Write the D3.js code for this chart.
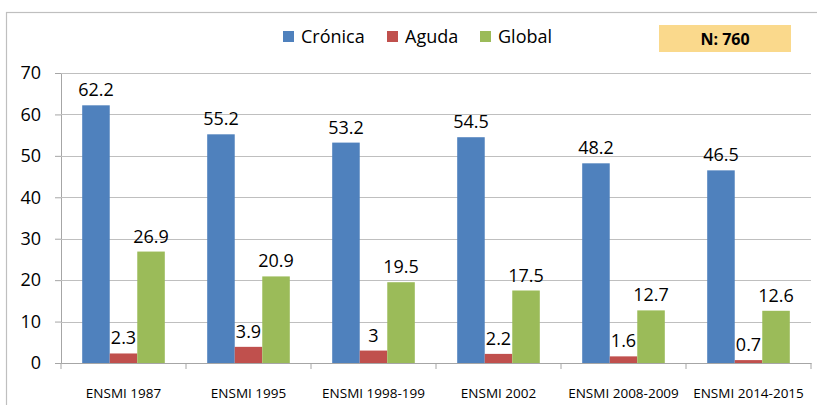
<!DOCTYPE html>
<html>
<head>
<meta charset="utf-8">
<script src="https://cdn.jsdelivr.net/npm/d3@7"></script>
<style>
  body { margin: 0; background: #fff; }
  svg { display: block; font-family: "Open Sans", sans-serif; }
</style>
</head>
<body>
<div id="chart"></div>
<script>
// Chart data
const categories = ["ENSMI 1987", "ENSMI 1995", "ENSMI 1998-199", "ENSMI 2002", "ENSMI 2008-2009", "ENSMI 2014-2015"];
const seriesNames = ["Crónica", "Aguda", "Global"];
const cronica = [62.2, 55.2, 53.2, 54.5, 48.2, 46.5];
const aguda = [2.3, 3.9, 3, 2.2, 1.6, 0.7];
const global = [26.9, 20.9, 19.5, 17.5, 12.7, 12.6];
const yTicks = [0, 10, 20, 30, 40, 50, 60, 70];
const noteText = "N: 760";

const colors = ["#4F81BD", "#C0504D", "#9BBB59"];
const values = [cronica, aguda, global];

const width = 817;
const height = 405;
const margin = { top: 73, right: 6, bottom: 42, left: 61 };

const svg = d3.select("#chart")
  .append("svg")
  .attr("width", width)
  .attr("height", height);

// Outer frame (runs off the right and bottom edge like the source)
svg.append("rect")
  .attr("x", 6.5)
  .attr("y", 12.5)
  .attr("width", 840)
  .attr("height", 440)
  .attr("fill", "none")
  .attr("stroke", "#BFBFBF")
  .attr("stroke-width", 1.2);

const x0 = d3.scaleBand()
  .domain(categories)
  .range([margin.left, width - margin.right])
  .paddingInner(0)
  .paddingOuter(0);

const x1 = d3.scaleBand()
  .domain(seriesNames)
  .range([0, x0.bandwidth()])
  .paddingOuter(0.77)
  .paddingInner(0);

const y = d3.scaleLinear()
  .domain([0, 70])
  .range([height - margin.bottom, margin.top]);

// Gridlines + y axis
const yAxis = svg.append("g")
  .attr("transform", `translate(${margin.left},0)`)
  .call(d3.axisLeft(y).tickValues(yTicks).tickSize(6).tickPadding(14))
  .call(g => g.select(".domain").attr("stroke", "#A6A6A6"));
yAxis.selectAll(".tick line").attr("stroke", "#A6A6A6");
yAxis.selectAll(".tick text")
  .attr("font-size", 18)
  .attr("fill", "#000")
  .attr("font-family", "Open Sans, sans-serif");

svg.append("g")
  .selectAll("line")
  .data(yTicks.filter(d => d > 0))
  .join("line")
  .attr("x1", margin.left)
  .attr("x2", width - margin.right)
  .attr("y1", d => Math.round(y(d)) + 0.5)
  .attr("y2", d => Math.round(y(d)) + 0.5)
  .attr("stroke", "#BFBFBF");

// X axis
const xAxis = svg.append("g")
  .attr("transform", `translate(0,${y(0)})`)
  .call(d3.axisBottom(x0).tickSize(0).tickPadding(25));
xAxis.select(".domain").attr("stroke", "#A6A6A6");
xAxis.selectAll(".tick text")
  .attr("font-size", 13.5)
  .attr("fill", "#000")
  .attr("font-family", "Open Sans, sans-serif");

// category separator ticks
svg.append("g")
  .selectAll("line")
  .data(categories.map(c => x0(c)).concat([x0.range()[1]]))
  .join("line")
  .attr("x1", d => d)
  .attr("x2", d => d)
  .attr("y1", y(0))
  .attr("y2", y(0) + 6)
  .attr("stroke", "#A6A6A6");

// Bars
const groups = svg.append("g")
  .selectAll("g")
  .data(categories)
  .join("g")
  .attr("transform", d => `translate(${x0(d)},0)`);

groups.selectAll("rect")
  .data((c, i) => seriesNames.map((s, k) => ({ s, k, v: values[k][i] })))
  .join("rect")
  .attr("x", d => x1(d.s))
  .attr("y", d => y(d.v))
  .attr("width", x1.bandwidth())
  .attr("height", d => y(0) - y(d.v))
  .attr("fill", d => colors[d.k]);

groups.selectAll("text")
  .data((c, i) => seriesNames.map((s, k) => ({ s, k, v: values[k][i] })))
  .join("text")
  .attr("x", d => x1(d.s) + x1.bandwidth() / 2)
  .attr("y", d => y(d.v) - 9)
  .attr("text-anchor", "middle")
  .attr("font-size", 18)
  .attr("fill", "#000")
  .text(d => d.v);

// Legend
const legendX = [283, 387, 480];
const legend = svg.append("g");
seriesNames.forEach((name, i) => {
  legend.append("rect")
    .attr("x", legendX[i])
    .attr("y", 31)
    .attr("width", 11)
    .attr("height", 11)
    .attr("fill", colors[i]);
  legend.append("text")
    .attr("x", legendX[i] + 18)
    .attr("y", 43)
    .attr("font-size", 18)
    .attr("fill", "#000")
    .text(name);
});

// N box
svg.append("rect")
  .attr("x", 659)
  .attr("y", 25)
  .attr("width", 132)
  .attr("height", 27)
  .attr("fill", "#FAD98C");
svg.append("text")
  .attr("x", 725)
  .attr("y", 45)
  .attr("text-anchor", "middle")
  .attr("font-size", 16)
  .attr("font-weight", "bold")
  .attr("fill", "#000")
  .text(noteText);
</script>
</body>
</html>
